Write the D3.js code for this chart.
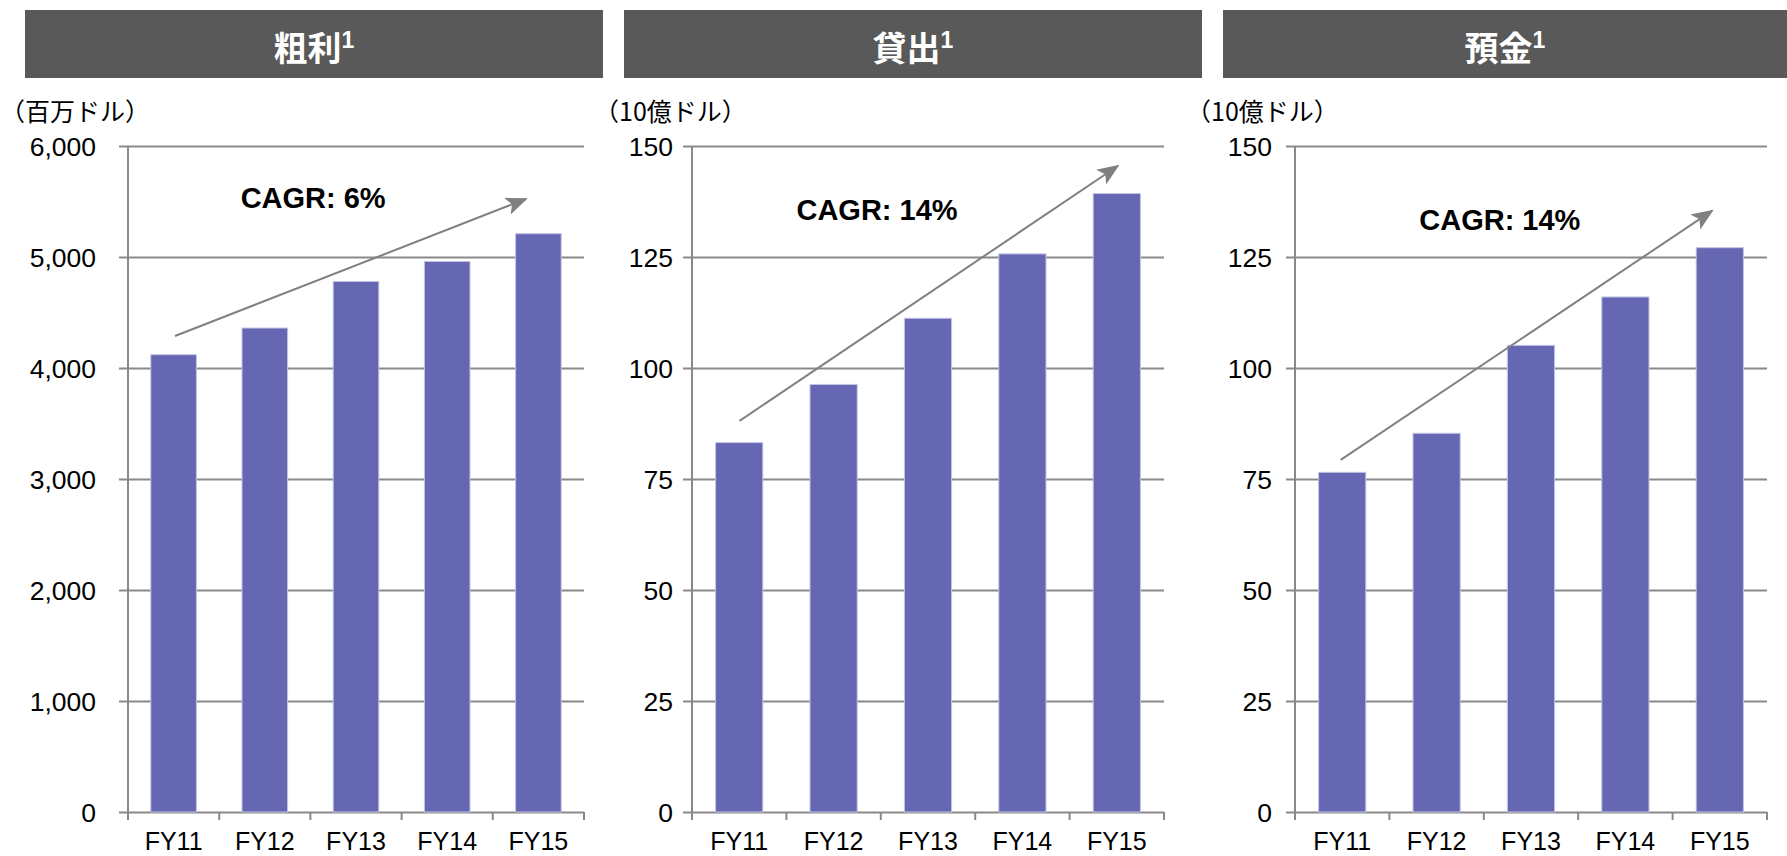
<!DOCTYPE html>
<html>
<head>
<meta charset="utf-8">
<script src="https://cdn.jsdelivr.net/npm/d3@7"></script>
<style>
  body { margin: 0; background: #fff; }
  svg { display: block; }
</style>
</head>
<body>
<svg id="chart" width="1787" height="856"></svg>
<script>
// ---- data ----
const years = ["FY11", "FY12", "FY13", "FY14", "FY15"];
const grossProfit = [4120, 4360, 4780, 4960, 5210];   // 百万ドル
const loans = [83.2, 96.3, 111.2, 125.7, 139.3];      // 10億ドル
const deposits = [76.5, 85.3, 105.1, 116.0, 127.1];   // 10億ドル
const profitTicks = [0, 1000, 2000, 3000, 4000, 5000, 6000];
const balanceTicks = [0, 25, 50, 75, 100, 125, 150];
const titles = ["粗利", "貸出", "預金"];
const units = ["（百万ドル）", "（10億ドル）", "（10億ドル）"];
const cagrLabels = ["CAGR: 6%", "CAGR: 14%", "CAGR: 14%"];

// trend arrows as [category position, value] pairs (position 0..5 spans the axis)
const trendArrows = [
  [[0.515, 4288], [4.364, 5523]],
  [[0.504, 88.1], [4.51, 145.5]],
  [[0.484, 79.3], [4.417, 135.4]]
];
// CAGR label anchor, [category position, value]
const cagrAnchors = [[2.03, 5441], [1.96, 133.3], [2.17, 131.1]];

// ---- layout ----
const panels = [
  { title: titles[0], unit: units[0], values: grossProfit, ticks: profitTicks, fmt: d3.format(","),
    header: [25, 603], plot: [128, 584], labelRight: 96, unitX: 0 },
  { title: titles[1], unit: units[1], values: loans, ticks: balanceTicks, fmt: d3.format("d"),
    header: [624, 1202], plot: [692, 1164], labelRight: 673, unitX: 594 },
  { title: titles[2], unit: units[2], values: deposits, ticks: balanceTicks, fmt: d3.format("d"),
    header: [1223, 1787], plot: [1295, 1767], labelRight: 1272, unitX: 1186 }
];

const plotTop = 146, plotBottom = 812;
const gridColor = "#898989";
const barColor = "#6567b3";
const latin = "'Liberation Sans', Arial, sans-serif";
const cjk = "'Noto Sans CJK JP', 'Noto Sans', sans-serif";

const svg = d3.select("#chart");
svg.append("rect").attr("width", 1787).attr("height", 856).attr("fill", "#fff");

svg.append("defs").append("marker")
  .attr("id", "arrowhead")
  .attr("markerUnits", "userSpaceOnUse")
  .attr("markerWidth", 24).attr("markerHeight", 20)
  .attr("refX", 20).attr("refY", 9)
  .attr("orient", "auto")
  .append("path")
  .attr("d", "M0,0 L22,9 L0,18 L5,9 Z")
  .attr("fill", "#808080");

panels.forEach((p, i) => {
  const g = svg.append("g");

  // header band
  g.append("rect")
    .attr("x", p.header[0]).attr("y", 10)
    .attr("width", p.header[1] - p.header[0]).attr("height", 68)
    .attr("fill", "#595959");
  const t = g.append("text")
    .attr("x", (p.header[0] + p.header[1]) / 2).attr("y", 61)
    .attr("text-anchor", "middle")
    .attr("fill", "#fff").attr("font-weight", "bold");
  t.append("tspan").attr("font-family", cjk).attr("font-size", 34).text(p.title);
  t.append("tspan").attr("font-family", latin).attr("font-size", 23).attr("dy", -13).text("1");

  // unit label
  g.append("text")
    .attr("x", p.unitX).attr("y", 121)
    .attr("font-family", cjk).attr("font-size", 25)
    .attr("fill", "#000")
    .text(p.unit);

  const y = d3.scaleLinear()
    .domain([0, d3.max(p.ticks)])
    .range([plotBottom, plotTop]);
  const x = d3.scaleBand()
    .domain(years)
    .range(p.plot)
    .paddingInner(0.5).paddingOuter(0.25);
  const xPos = d3.scaleLinear().domain([0, years.length]).range(p.plot);

  // horizontal gridlines with outward ticks
  const yAxis = d3.axisLeft(y).tickValues(p.ticks).tickFormat("")
    .tickSize(-(p.plot[1] - p.plot[0])).tickSizeOuter(0);
  const ya = g.append("g").attr("transform", `translate(${p.plot[0]},0)`).call(yAxis);
  ya.select(".domain").remove();
  ya.selectAll(".tick line").attr("stroke", gridColor).attr("stroke-width", 2)
    .attr("x1", -9);

  // tick labels
  g.selectAll(".ylab").data(p.ticks).join("text")
    .attr("x", p.labelRight).attr("y", d => y(d))
    .attr("dy", "0.36em")
    .attr("text-anchor", "end")
    .attr("font-family", latin).attr("font-size", 26.5).attr("fill", "#000")
    .text(d => p.fmt(d));

  // bars
  g.selectAll(".bar").data(p.values).join("rect")
    .attr("x", (d, j) => x(years[j]))
    .attr("y", d => y(d))
    .attr("width", x.bandwidth())
    .attr("height", d => y(0) - y(d))
    .attr("fill", barColor)
    .attr("stroke", "#c3c4e6").attr("stroke-width", 1);

  // vertical axis line
  g.append("line")
    .attr("x1", p.plot[0]).attr("x2", p.plot[0])
    .attr("y1", plotTop).attr("y2", plotBottom + 8)
    .attr("stroke", gridColor).attr("stroke-width", 2);

  // category separators below the baseline
  g.selectAll(".xtick").data(d3.range(years.length + 1)).join("line")
    .attr("x1", d => xPos(d)).attr("x2", d => xPos(d))
    .attr("y1", plotBottom).attr("y2", plotBottom + 8)
    .attr("stroke", gridColor).attr("stroke-width", 2);

  // category labels
  g.selectAll(".xlab").data(years).join("text")
    .attr("x", d => x(d) + x.bandwidth() / 2).attr("y", 850)
    .attr("text-anchor", "middle")
    .attr("font-family", latin).attr("font-size", 25).attr("fill", "#000")
    .text(d => d);

  // trend arrow
  const a = trendArrows[i];
  g.append("line")
    .attr("x1", xPos(a[0][0])).attr("y1", y(a[0][1]))
    .attr("x2", xPos(a[1][0])).attr("y2", y(a[1][1]))
    .attr("stroke", "#808080").attr("stroke-width", 2)
    .attr("marker-end", "url(#arrowhead)");

  // CAGR label
  g.append("text")
    .attr("x", xPos(cagrAnchors[i][0])).attr("y", y(cagrAnchors[i][1]))
    .attr("text-anchor", "middle")
    .attr("font-family", latin).attr("font-weight", "bold").attr("font-size", 29)
    .attr("fill", "#000")
    .text(cagrLabels[i]);
});
</script>
</body>
</html>
